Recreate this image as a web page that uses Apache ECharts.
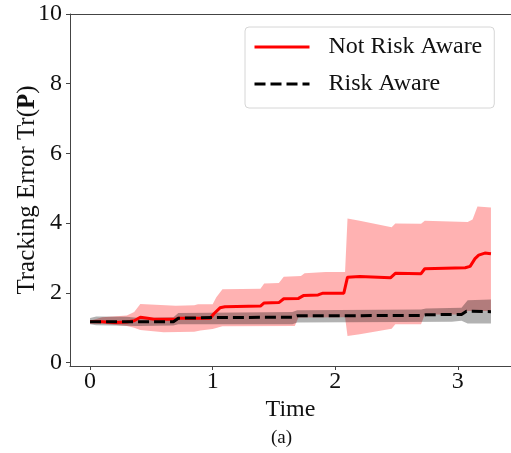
<!DOCTYPE html>
<html>
<head>
<meta charset="utf-8">
<script src="https://cdn.jsdelivr.net/npm/echarts@6/dist/echarts.min.js"></script>
<style>
  html, body { margin: 0; padding: 0; background: #fff; }
  #chart { width: 511px; height: 453px; }
</style>
</head>
<body>
<div id="chart"></div>
<script>
// Mean tracking error, not risk aware controller: [time, Tr(P)]
const notAwareMean = [[0,1.17],[0.1,1.17],[0.2,1.15],[0.3,1.16],[0.36,1.2],[0.41,1.30],[0.47,1.27],[0.52,1.24],[0.7,1.24],[0.72,1.27],[0.98,1.27],[1.01,1.40],[1.06,1.57],[1.1,1.60],[1.39,1.62],[1.42,1.71],[1.54,1.72],[1.58,1.83],[1.7,1.84],[1.74,1.92],[1.86,1.94],[1.9,1.99],[2.07,1.99],[2.1,2.45],[2.2,2.47],[2.45,2.43],[2.49,2.56],[2.7,2.55],[2.73,2.69],[3.06,2.72],[3.1,2.76],[3.14,2.98],[3.17,3.08],[3.22,3.14],[3.27,3.12]];
// Spread band around the not risk aware mean
const notAwareUpper = [[0,1.2],[0.1,1.3],[0.3,1.35],[0.36,1.45],[0.41,1.68],[0.7,1.63],[0.85,1.64],[0.88,1.67],[1.0,1.67],[1.03,1.87],[1.08,2.1],[1.39,2.12],[1.42,2.27],[1.54,2.28],[1.58,2.46],[1.72,2.48],[1.75,2.56],[1.92,2.6],[2.08,2.6],[2.1,4.13],[2.2,4.07],[2.46,3.88],[2.49,3.99],[2.7,3.98],[2.73,4.07],[3.08,4.03],[3.12,4.1],[3.16,4.48],[3.27,4.45]];
const notAwareLower = [[0,1.15],[0.3,1.05],[0.36,1.0],[0.41,0.93],[0.6,0.87],[0.85,0.88],[0.9,0.92],[1.0,0.96],[1.08,1.04],[1.67,1.05],[1.7,1.29],[2.08,1.30],[2.1,0.76],[2.2,0.81],[2.46,0.97],[2.49,1.10],[2.70,1.10],[2.73,1.38],[3.05,1.38],[3.08,1.48],[3.27,1.48]];

// Mean tracking error, risk aware controller
const awareMean = [[0,1.17],[0.68,1.17],[0.72,1.27],[1.0,1.29],[1.65,1.30],[1.69,1.34],[2.7,1.35],[2.74,1.37],[3.03,1.38],[3.07,1.47],[3.27,1.46]];
const awareUpper = [[0,1.28],[0.05,1.32],[0.3,1.31],[0.4,1.28],[0.68,1.30],[0.72,1.42],[1.65,1.45],[1.69,1.50],[2.7,1.52],[2.74,1.55],[3.03,1.57],[3.08,1.79],[3.27,1.81]];
const awareLower = [[0,1.1],[0.05,1.07],[0.4,1.05],[0.68,1.06],[0.72,1.10],[1.65,1.10],[1.69,1.15],[2.95,1.17],[3.03,1.2],[3.08,1.12],[3.27,1.12]];

// Axis ticks
const xTicks = [0, 1, 2, 3];
const yTicks = [0, 2, 4, 6, 8, 10];

const FONT = '"Liberation Serif", "DejaVu Serif", serif';
const X_MIN = -0.1635, X_MAX = 3.4335;

// Filled band between an upper and a lower curve
function band(upper, lower, color) {
  return {
    type: 'custom',
    silent: true,
    data: [[0, 0]],
    z: 1,
    renderItem: function (params, api) {
      const pts = upper.map(p => api.coord(p))
        .concat(lower.slice().reverse().map(p => api.coord(p)));
      return { type: 'polygon', shape: { points: pts }, style: { fill: color } };
    }
  };
}

const chart = echarts.init(document.getElementById('chart'), null, { renderer: 'canvas' });
chart.setOption({
  animation: false,
  backgroundColor: '#fff',
  grid: { left: 70, top: 14, right: -2.6, bottom: 87 },
  legend: {
    orient: 'vertical',
    left: 245, top: 27,
    padding: [6, 12, 10, 8],
    itemGap: 9,
    itemWidth: 55, itemHeight: 14,
    backgroundColor: 'rgba(255,255,255,0.8)',
    borderColor: '#d6d6d6', borderWidth: 1, borderRadius: 4,
    textStyle: { fontFamily: FONT, fontSize: 24, color: '#111', lineHeight: 28, padding: [0, 0, 0, 14] },
    data: [
      { name: 'Not Risk Aware', itemStyle: { opacity: 0 }, lineStyle: { color: '#ff0000', width: 3 } },
      { name: 'Risk Aware', itemStyle: { opacity: 0 }, lineStyle: { color: '#000', width: 3, type: [11, 5] } }
    ]
  },
  xAxis: [{
    type: 'value',
    min: X_MIN, max: X_MAX,
    name: 'Time', nameLocation: 'middle', nameGap: 32, nameMoveOverlap: false,
    nameTextStyle: { fontFamily: FONT, fontSize: 24, color: '#111' },
    axisLine: { show: true, onZero: false, lineStyle: { color: '#444', width: 1 } },
    axisTick: { show: true, length: 4, customValues: xTicks, lineStyle: { color: '#444' } },
    axisLabel: { customValues: xTicks, fontFamily: FONT, fontSize: 24, color: '#111', margin: 4 },
    splitLine: { show: false }
  }, {
    // top frame line
    type: 'value', position: 'top',
    min: X_MIN, max: X_MAX,
    axisLine: { show: true, onZero: false, lineStyle: { color: '#444', width: 1 } },
    axisTick: { show: false }, axisLabel: { show: false }, splitLine: { show: false }
  }],
  yAxis: {
    type: 'value',
    min: -0.1, max: 10,
    name: '{n|Tracking Error Tr(}{b|P}{n|)}', nameLocation: 'middle', nameGap: 30, nameRotate: 90,
    nameMoveOverlap: false,
    nameTextStyle: {
      rich: {
        n: { fontFamily: FONT, fontSize: 25, color: '#111' },
        b: { fontFamily: FONT, fontSize: 25, color: '#111', fontWeight: 'bold' }
      }
    },
    axisLine: { show: true, onZero: false, lineStyle: { color: '#444', width: 1 } },
    axisTick: { show: true, length: 4, customValues: yTicks, lineStyle: { color: '#444' } },
    axisLabel: { customValues: yTicks, fontFamily: FONT, fontSize: 24, color: '#111', margin: 8 },
    splitLine: { show: false }
  },
  graphic: [{
    type: 'text', left: 271, top: 429,
    style: { text: '(a)', fontFamily: FONT, fontSize: 19, fill: '#111' }
  }],
  series: [
    band(notAwareUpper, notAwareLower, 'rgba(255,0,0,0.3)'),
    band(awareUpper, awareLower, 'rgba(0,0,0,0.3)'),
    {
      name: 'Not Risk Aware', type: 'line', data: notAwareMean,
      showSymbol: false, symbol: 'none', z: 3,
      lineStyle: { color: '#ff0000', width: 3 }, itemStyle: { color: '#ff0000' }
    },
    {
      name: 'Risk Aware', type: 'line', data: awareMean,
      showSymbol: false, symbol: 'none', z: 4,
      lineStyle: { color: '#000', width: 3, type: [11, 5] }, itemStyle: { color: '#000' }
    }
  ]
});
</script>
</body>
</html>
